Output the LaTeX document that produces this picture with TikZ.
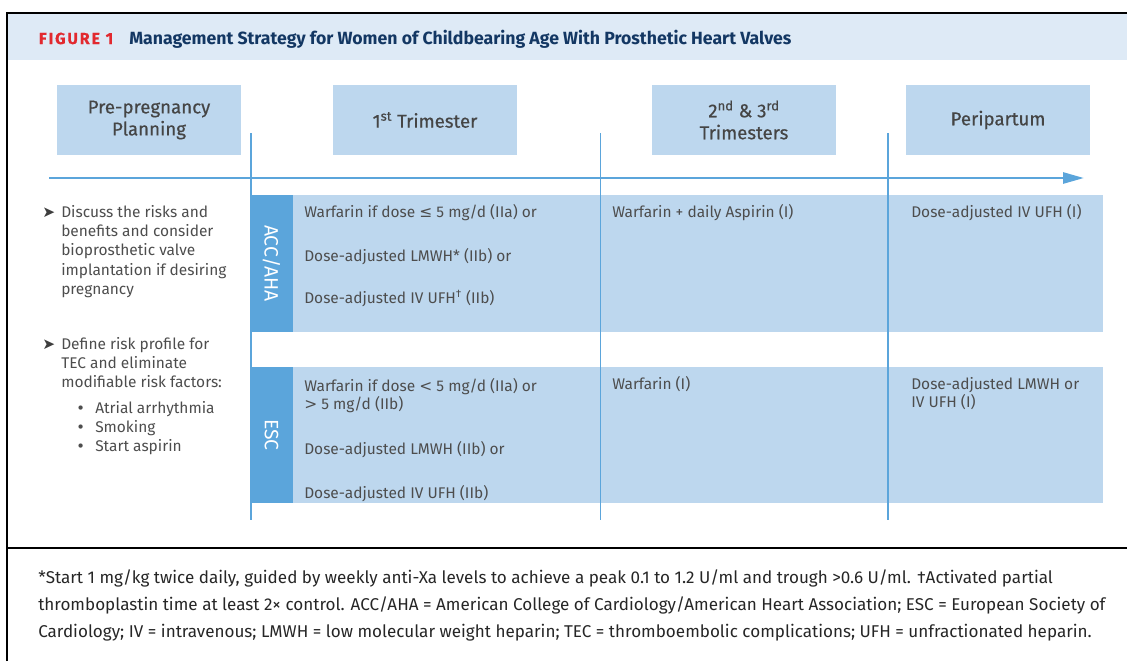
\documentclass[tikz,border=0pt]{standalone}
\usepackage{fontspec}
\setmainfont{Fira Sans}
\newfontfamily\symfont{DejaVu Sans}
\usetikzlibrary{arrows.meta}

\definecolor{hdrband}{HTML}{DEEAF6}
\definecolor{cellblue}{HTML}{BDD7EE}
\definecolor{labelblue}{HTML}{5BA5DB}
\definecolor{lineblue}{HTML}{5BA5DB}
\definecolor{figred}{HTML}{E2292F}
\definecolor{titlenavy}{HTML}{133763}
\definecolor{txtgrey}{HTML}{4D4D4D}

% left-aligned rows whose reference point is the first baseline
\newcommand{\textrows}[1]{\begin{tabular}[t]{@{}l@{}}#1\end{tabular}}

\tikzset{
  phasebox/.style={fill=cellblue, text=txtgrey!90!black, align=center, inner sep=0pt,
    minimum width=138pt, minimum height=52.5pt,
    font=\fontsize{14}{16.5}\selectfont\addfontfeatures{FakeBold=0.5}},
  band/.style={fill=cellblue, inner sep=0pt, minimum width=639.75pt},
  labelcol/.style={fill=labelblue, text=white, inner sep=0pt, rotate=-90,
    minimum height=32.25pt, font=\fontsize{14.5}{16}\selectfont},
  celltext/.style={anchor=base west, inner sep=0pt, text=txtgrey,
    font=\fontsize{11.6}{13.8}\selectfont},
  sidetext/.style={anchor=base west, inner sep=0pt, text=txtgrey,
    font=\fontsize{11.6}{14.6}\selectfont},
  bulletmark/.style={anchor=base west, inner sep=0pt, text=txtgrey!80!black,
    font=\fontsize{11.5}{14}\symfont},
  dotmark/.style={anchor=base west, inner sep=0pt, text=txtgrey,
    font=\fontsize{11}{14}\symfont},
  divider/.style={draw=lineblue, line width=1.2pt},
  timeline/.style={draw=lineblue, line width=2pt,
    -{Triangle[length=15.75pt, width=8.25pt]}},
  frameline/.style={draw=black, line width=1.5pt},
}

\begin{document}
\begin{tikzpicture}[x=0.75pt, y=-0.75pt]
\useasboundingbox (0,0) rectangle (1127,661);

% title band and outer frame
\fill[hdrband] (7,13) rectangle (1127,60);
\draw[frameline] (7,661) -- (7,13) -- (1127,13);
\draw[frameline] (7,548) -- (1127,548);

\node[anchor=base west, inner sep=0pt, text=figred,
  font=\fontsize{12}{14}\selectfont\bfseries\addfontfeatures{LetterSpace=12,FakeBold=0.6}]
  (figno) at (38.6,44) {FIGURE 1};
\node[anchor=base west, inner sep=0pt, text=titlenavy,
  font=\fontsize{13.25}{15}\selectfont\bfseries]
  (title) at (129,44) {Management Strategy for Women of Childbearing Age With Prosthetic Heart Valves};

% phase headings
\node[phasebox] (pre)  at (149,120) {Pre-pregnancy\\Planning};
\node[phasebox] (tri1) at (425,120) {1\textsuperscript{st} Trimester};
\node[phasebox] (tri23) at (744,120) {2\textsuperscript{nd} \& 3\textsuperscript{rd}\\Trimesters};
\node[phasebox] (peri) at (998,120) {Peripartum};

% guideline bands
\node[band, minimum height=102.75pt] (accband) at (676.5,263.5) {};
\node[band, minimum height=102pt] (escband) at (676.5,435) {};
\node[labelcol, minimum width=102.75pt] (acclabel) at (271.5,263.5) {ACC/AHA};
\node[labelcol, minimum width=102pt] (esclabel) at (271.5,435) {ESC};

% phase dividers
\coordinate (d1t) at (251,133);  \coordinate (d1b) at (251,520);
\coordinate (d2t) at (600.5,133); \coordinate (d2b) at (600.5,520);
\coordinate (d3t) at (888,133);  \coordinate (d3b) at (888,520);
\draw[divider] (d1t) -- (d1b);
\draw[divider] (d2t) -- (d2b);
\draw[divider] (d3t) -- (d3b);

% time axis
\coordinate (axs) at (49,178);
\coordinate (axe) at (1084,178);
\draw[timeline] (axs) -- (axe);

% pre-pregnancy advice
\node[bulletmark] (b1) at (42,217) {➤};
\node[sidetext] (adv1) at (61,217) {\textrows{Discuss the risks and\\benefits and consider\\bioprosthetic valve\\implantation if desiring\\pregnancy}};
\node[bulletmark] (b2) at (42,349) {➤};
\node[sidetext] (adv2) at (61,349) {\textrows{Define risk profile for\\TEC and eliminate\\modifiable risk factors:}};
\node[dotmark] (rf1) at (76,413) {•};
\node[dotmark] (rf2) at (76,432) {•};
\node[dotmark] (rf3) at (76,451) {•};
\node[sidetext] (rf1t) at (95,413) {Atrial arrhythmia};
\node[sidetext] (rf2t) at (95,432) {Smoking};
\node[sidetext] (rf3t) at (95,451) {Start aspirin};

% ACC/AHA recommendations
\node[celltext] (a1) at (304,217) {Warfarin if dose {\symfont ≤} 5 mg/d (IIa) or};
\node[celltext] (a2) at (304,261) {Dose-adjusted LMWH* (IIb) or};
\node[celltext] (a3) at (304,303) {Dose-adjusted IV UFH\textsuperscript{†} (IIb)};
\node[celltext] (a4) at (612,217) {Warfarin + daily Aspirin (I)};
\node[celltext] (a5) at (911,217) {Dose-adjusted IV UFH (I)};

% ESC recommendations
\node[celltext] (e1) at (304,391) {\textrows{Warfarin if dose {\symfont <} 5 mg/d (IIa) or\\{\symfont >} 5 mg/d (IIb)}};
\node[celltext] (e2) at (304,454) {Dose-adjusted LMWH (IIb) or};
\node[celltext] (e3) at (304,498) {Dose-adjusted IV UFH (IIb)};
\node[celltext] (e4) at (612,389) {Warfarin (I)};
\node[celltext] (e5) at (911,389) {\textrows{Dose-adjusted LMWH or\\IV UFH (I)}};

% footnote
\node[anchor=base west, inner sep=0pt, text=black!85,
  font=\fontsize{12.8}{20.25}\selectfont] (note) at (38,583)
  {\textrows{*Start 1 mg/kg twice daily, guided by weekly anti-Xa levels to achieve a peak 0.1 to 1.2 U/ml and trough >0.6 U/ml. †Activated partial\\
   thromboplastin time at least 2× control. ACC/AHA = American College of Cardiology/American Heart Association; ESC = European Society of\\
   Cardiology; IV = intravenous; LMWH = low molecular weight heparin; TEC = thromboembolic complications; UFH = unfractionated heparin.}};
\end{tikzpicture}
\end{document}
